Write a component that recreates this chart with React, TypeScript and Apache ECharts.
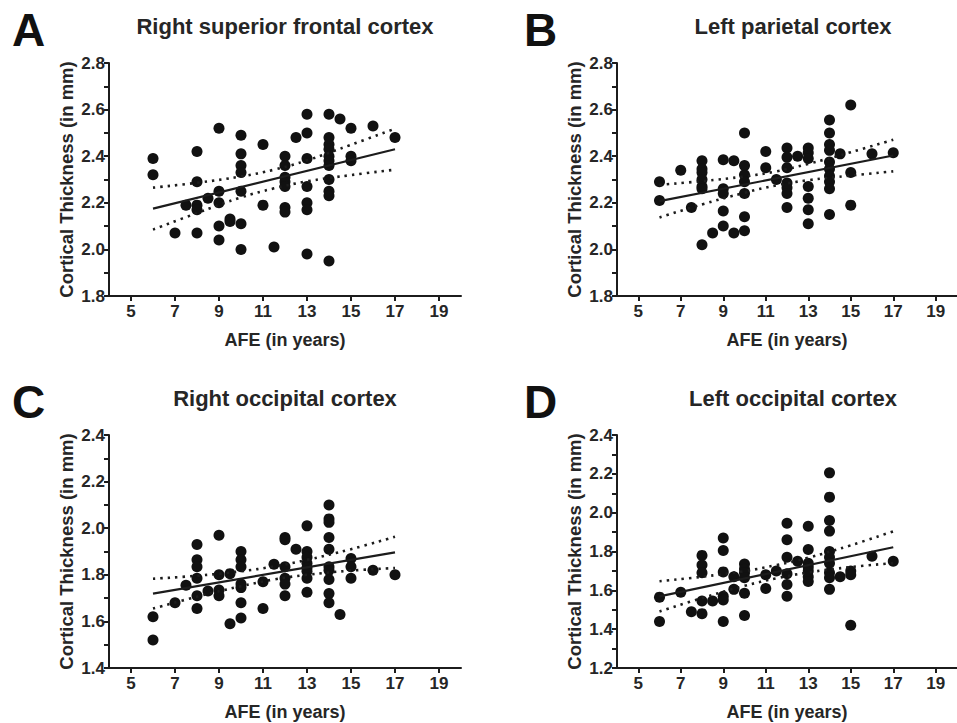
import React, { useEffect, useRef } from "react";
import * as echarts from "echarts";

const FONT = "'Liberation Sans', Arial, sans-serif";
const X_TICKS = [5, 7, 9, 11, 13, 15, 17, 19];
const PANEL_LETTERS = ["A", "B", "C", "D"];
const PANEL_TITLES = [
  "Right superior frontal cortex",
  "Left parietal cortex",
  "Right occipital cortex",
  "Left occipital cortex",
];
const Y_TITLE = "Cortical Thickness (in mm)";
const X_TITLE = "AFE (in years)";
const Y_RANGES = [
  [1.8, 2.8],
  [1.8, 2.8],
  [1.4, 2.4],
  [1.2, 2.4],
];

const pointsA = [
  [6, 2.39], [6, 2.32], [7, 2.07], [7.5, 2.19], [8, 2.42], [8, 2.29], [8, 2.19], [8, 2.17], [8, 2.07],
  [8.5, 2.22], [9, 2.52], [9, 2.25], [9, 2.2], [9, 2.1], [9, 2.04], [9.5, 2.13], [9.5, 2.12],
  [10, 2.49], [10, 2.41], [10, 2.36], [10, 2.33], [10, 2.25], [10, 2.11], [10, 2.0], [11, 2.45],
  [11, 2.19], [11.5, 2.01], [12, 2.4], [12, 2.36], [12, 2.31], [12, 2.29], [12, 2.27], [12, 2.18],
  [12, 2.16], [12.5, 2.48], [13, 2.58], [13, 2.5], [13, 2.39], [13, 2.27], [13, 2.2], [13, 2.17],
  [13, 1.98], [14, 2.58], [14, 2.48], [14, 2.45], [14, 2.43], [14, 2.4], [14, 2.38], [14, 2.36],
  [14, 2.3], [14, 2.25], [14, 2.23], [14, 1.95], [14.5, 2.56], [15, 2.52], [15, 2.4], [15, 2.38],
  [16, 2.53], [17, 2.48],
];
const pointsB = [
  [6, 2.29], [6, 2.21], [7, 2.34], [7.5, 2.18], [8, 2.38], [8, 2.345], [8, 2.33], [8, 2.3], [8, 2.27],
  [8, 2.26], [8, 2.02], [8.5, 2.07], [9, 2.385], [9, 2.26], [9, 2.24], [9, 2.165], [9, 2.1],
  [9.5, 2.38], [9.5, 2.07], [10, 2.5], [10, 2.36], [10, 2.32], [10, 2.29], [10, 2.24], [10, 2.14],
  [10, 2.08], [11, 2.42], [11, 2.35], [11.5, 2.3], [12, 2.435], [12, 2.395], [12, 2.35], [12, 2.285],
  [12, 2.265], [12, 2.24], [12, 2.18], [12.5, 2.4], [13, 2.435], [13, 2.415], [13, 2.39], [13, 2.27],
  [13, 2.22], [13, 2.17], [13, 2.11], [14, 2.555], [14, 2.5], [14, 2.45], [14, 2.425], [14, 2.375],
  [14, 2.345], [14, 2.315], [14, 2.29], [14, 2.26], [14, 2.15], [14.5, 2.41], [15, 2.62], [15, 2.33],
  [15, 2.19], [16, 2.41], [17, 2.415],
];
const pointsC = [
  [6, 1.62], [6, 1.52], [7, 1.68], [7.5, 1.755], [8, 1.93], [8, 1.865], [8, 1.835], [8, 1.785],
  [8, 1.71], [8, 1.655], [8.5, 1.73], [9, 1.97], [9, 1.8], [9, 1.735], [9, 1.71], [9.5, 1.805],
  [9.5, 1.59], [10, 1.9], [10, 1.865], [10, 1.835], [10, 1.76], [10, 1.745], [10, 1.68], [10, 1.615],
  [11, 1.77], [11, 1.655], [11.5, 1.845], [12, 1.96], [12, 1.95], [12, 1.835], [12, 1.785],
  [12, 1.76], [12, 1.71], [12.5, 1.91], [13, 2.01], [13, 1.9], [13, 1.875], [13, 1.85], [13, 1.83],
  [13, 1.815], [13, 1.785], [13, 1.725], [14, 2.1], [14, 2.04], [14, 2.025], [14, 1.96], [14, 1.91],
  [14, 1.835], [14, 1.82], [14, 1.78], [14, 1.72], [14, 1.68], [14.5, 1.63], [15, 1.87], [15, 1.835],
  [15, 1.785], [16, 1.82], [17, 1.8],
];
const pointsD = [
  [6, 1.565], [6, 1.44], [7, 1.59], [7.5, 1.49], [8, 1.78], [8, 1.73], [8, 1.69], [8, 1.545],
  [8, 1.48], [8.5, 1.545], [9, 1.87], [9, 1.805], [9, 1.695], [9, 1.57], [9, 1.55], [9, 1.44],
  [9.5, 1.67], [9.5, 1.605], [10, 1.735], [10, 1.71], [10, 1.69], [10, 1.665], [10, 1.585], [10, 1.47],
  [11, 1.68], [11, 1.61], [11.5, 1.7], [12, 1.945], [12, 1.86], [12, 1.77], [12, 1.685], [12, 1.63],
  [12, 1.57], [12.5, 1.75], [13, 1.93], [13, 1.81], [13, 1.74], [13, 1.72], [13, 1.7], [13, 1.67],
  [13, 1.645], [14, 2.205], [14, 2.08], [14, 1.96], [14, 1.905], [14, 1.8], [14, 1.77], [14, 1.74],
  [14, 1.69], [14, 1.665], [14, 1.605], [14.5, 1.67], [15, 1.7], [15, 1.68], [15, 1.42], [16, 1.775],
  [17, 1.75],
];

// regression fits: [x, y] at ends
const fitA = [[6, 2.175], [17, 2.43]];
const fitB = [[6, 2.207], [17, 2.403]];
const fitC = [[6, 1.719], [17, 1.896]];
const fitD = [[6, 1.569], [17, 1.822]];

// 95% confidence band read at these x positions
const bandX = [6, 8, 10, 11.5, 13, 15, 17];
const upperA = [2.265, 2.286, 2.313, 2.342, 2.382, 2.449, 2.518];
const lowerA = [2.085, 2.156, 2.223, 2.262, 2.292, 2.319, 2.342];
const upperB = [2.277, 2.293, 2.313, 2.335, 2.367, 2.417, 2.471];
const lowerB = [2.137, 2.193, 2.243, 2.275, 2.297, 2.317, 2.335];
const upperC = [1.783, 1.796, 1.815, 1.836, 1.864, 1.91, 1.963];
const lowerC = [1.655, 1.706, 1.751, 1.78, 1.8, 1.818, 1.829];
const upperD = [1.647, 1.67, 1.699, 1.73, 1.768, 1.832, 1.904];
const lowerD = [1.491, 1.56, 1.623, 1.662, 1.692, 1.72, 1.74];

const POINTS = [pointsA, pointsB, pointsC, pointsD];
const FITS = [fitA, fitB, fitC, fitD];
const UPPERS = [upperA, upperB, upperC, upperD];
const LOWERS = [lowerA, lowerB, lowerC, lowerD];

const GRIDS = [
  { left: 109, top: 63, width: 352, height: 233 },
  { left: 617, top: 63, width: 351, height: 233 },
  { left: 109, top: 435, width: 352, height: 233 },
  { left: 617, top: 435, width: 351, height: 233 },
];

const INK = "#1c1c1c";
const TEXT = "#262626";

export default function App() {
  const ref = useRef<HTMLDivElement>(null);

  useEffect(() => {
    if (!ref.current) return;
    const chart = echarts.init(ref.current, undefined, { renderer: "svg" });

    const xAxis = GRIDS.map((_, i) => ({
      type: "value",
      gridIndex: i,
      min: 4,
      max: 20,
      axisLine: { show: true, onZero: false, lineStyle: { color: INK, width: 2 } },
      axisTick: { show: true, customValues: X_TICKS, length: 5, lineStyle: { color: INK, width: 2 } },
      axisLabel: {
        customValues: X_TICKS,
        fontSize: 17,
        fontWeight: "bold",
        color: TEXT,
        fontFamily: FONT,
        margin: 7,
      },
      splitLine: { show: false },
      name: X_TITLE,
      nameLocation: "middle",
      nameGap: 35,
      nameTextStyle: { fontSize: 18, fontWeight: "bold", color: TEXT, fontFamily: FONT },
    }));

    const yAxis = GRIDS.map((_, i) => ({
      type: "value",
      gridIndex: i,
      min: Y_RANGES[i][0],
      max: Y_RANGES[i][1],
      interval: 0.1,
      axisLine: { show: true, onZero: false, lineStyle: { color: INK, width: 2 } },
      axisTick: { show: true, length: 5, lineStyle: { color: INK, width: 2 } },
      axisLabel: {
        fontSize: 17,
        fontWeight: "bold",
        color: TEXT,
        fontFamily: FONT,
        margin: 4,
        formatter: (v: number) => (Math.round(v * 10) % 2 === 0 ? v.toFixed(1) : ""),
      },
      splitLine: { show: false },
      name: Y_TITLE,
      nameLocation: "middle",
      nameGap: 33,
      nameTextStyle: { fontSize: 18.5, fontWeight: "bold", color: TEXT, fontFamily: FONT },
    }));

    const series: any[] = [];
    GRIDS.forEach((_, i) => {
      series.push({
        type: "scatter",
        xAxisIndex: i,
        yAxisIndex: i,
        data: POINTS[i],
        symbolSize: 11,
        itemStyle: { color: "#111111", opacity: 1 },
        z: 3,
      });
      series.push({
        type: "line",
        xAxisIndex: i,
        yAxisIndex: i,
        data: FITS[i],
        showSymbol: false,
        lineStyle: { color: INK, width: 2.2 },
        z: 4,
      });
      [UPPERS[i], LOWERS[i]].forEach((band) => {
        series.push({
          type: "line",
          xAxisIndex: i,
          yAxisIndex: i,
          data: bandX.map((x, k) => [x, band[k]]),
          showSymbol: false,
          smooth: 0.4,
          lineStyle: { color: INK, width: 2.6, type: [2.4, 5] },
          z: 4,
        });
      });
    });

    const graphic: any[] = [];
    const letterPos = [
      [12, 30],
      [524, 30],
      [12, 402],
      [524, 402],
    ];
    const titlePos = [
      [285, 26],
      [793, 26],
      [285, 398],
      [793, 398],
    ];
    PANEL_LETTERS.forEach((l, i) => {
      graphic.push({
        type: "text",
        x: letterPos[i][0],
        y: letterPos[i][1],
        style: {
          text: l,
          fontSize: 46,
          fontWeight: "bold",
          fontFamily: FONT,
          fill: "#111111",
          textAlign: "left",
          textVerticalAlign: "middle",
        },
      });
      graphic.push({
        type: "text",
        x: titlePos[i][0],
        y: titlePos[i][1],
        style: {
          text: PANEL_TITLES[i],
          fontSize: 22,
          fontWeight: "bold",
          fontFamily: FONT,
          fill: TEXT,
          textAlign: "center",
          textVerticalAlign: "middle",
        },
      });
    });

    chart.setOption({
      animation: false,
      backgroundColor: "#ffffff",
      grid: GRIDS.map((g) => ({ ...g, containLabel: false })),
      xAxis,
      yAxis,
      series,
      graphic,
    });

    return () => chart.dispose();
  }, []);

  return (
    <div
      ref={ref}
      style={{ width: 957, height: 723, position: "absolute", left: 0, top: 0 }}
    />
  );
}
